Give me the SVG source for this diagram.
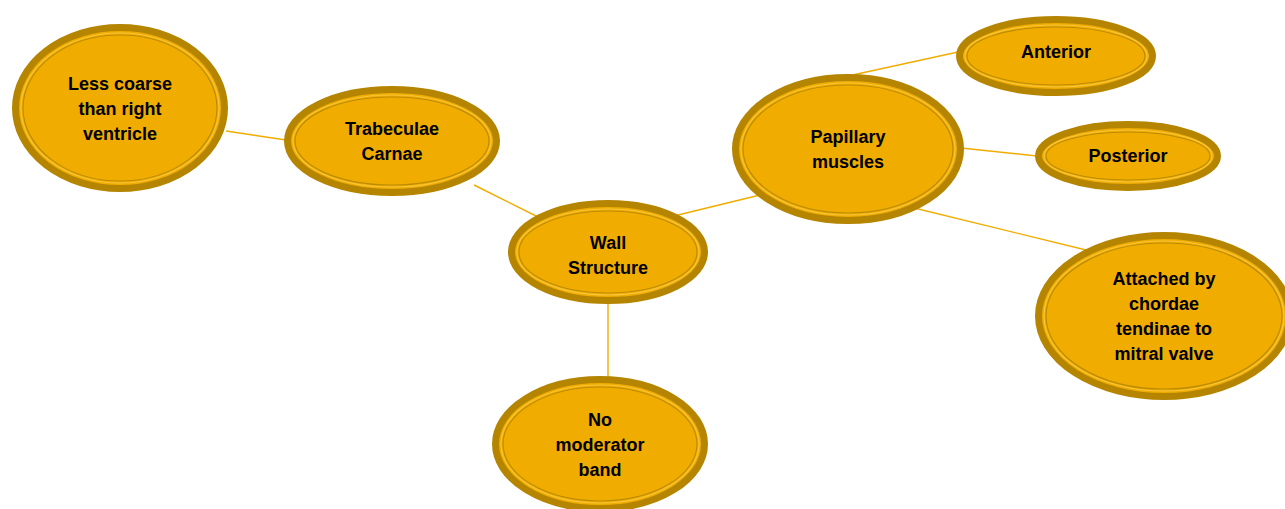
<svg xmlns="http://www.w3.org/2000/svg" width="1285" height="509" viewBox="0 0 1285 509">
<style>
.bg{fill:#ffffff}
.outer{fill:#F0AD00;stroke:#B58500;stroke-width:7}
.hl{fill:none;stroke:#F7C43A;stroke-width:1.2}
.dk{fill:none;stroke:#BE8C00;stroke-width:1.2}
.lbl{font-family:"Liberation Sans",Arial,sans-serif;font-weight:bold;font-size:18px;fill:#000;text-anchor:middle}
.conn line{stroke:#F0AD00;stroke-width:1.4}
</style>
<rect class="bg" x="0" y="0" width="1285" height="509"/>
<g id="connectors" class="conn">
<line x1="226" y1="131" x2="286" y2="140"/>
<line x1="474" y1="185" x2="540" y2="218"/>
<line x1="678" y1="215" x2="760" y2="195"/>
<line x1="608" y1="302" x2="608" y2="378"/>
<line x1="848" y1="76" x2="958" y2="52"/>
<line x1="961" y1="148" x2="1037" y2="156"/>
<line x1="906" y1="206" x2="1086" y2="250"/>
</g>
<g id="node-less-coarse" transform="translate(120,108)">
<ellipse class="outer" rx="104.5" ry="80.5"/>
<ellipse class="hl" rx="99" ry="75"/>
<ellipse class="dk" rx="97" ry="73"/>
<text class="lbl"><tspan x="0" y="-18">Less coarse</tspan><tspan x="0" y="7">than right</tspan><tspan x="0" y="32">ventricle</tspan></text>
</g>
<g id="node-trabeculae" transform="translate(392,141)">
<ellipse class="outer" rx="104.5" ry="51.5"/>
<ellipse class="hl" rx="99" ry="46"/>
<ellipse class="dk" rx="97" ry="44"/>
<text class="lbl"><tspan x="0" y="-6">Trabeculae</tspan><tspan x="0" y="19">Carnae</tspan></text>
</g>
<g id="node-wall" transform="translate(608,252)">
<ellipse class="outer" rx="96.5" ry="48.5"/>
<ellipse class="hl" rx="91" ry="43"/>
<ellipse class="dk" rx="89" ry="41"/>
<text class="lbl"><tspan x="0" y="-3">Wall</tspan><tspan x="0" y="22">Structure</tspan></text>
</g>
<g id="node-moderator" transform="translate(600,444)">
<ellipse class="outer" rx="104.5" ry="64.5"/>
<ellipse class="hl" rx="99" ry="59"/>
<ellipse class="dk" rx="97" ry="57"/>
<text class="lbl"><tspan x="0" y="-18">No</tspan><tspan x="0" y="7">moderator</tspan><tspan x="0" y="32">band</tspan></text>
</g>
<g id="node-papillary" transform="translate(848,149)">
<ellipse class="outer" rx="112.5" ry="71.5"/>
<ellipse class="hl" rx="107" ry="66"/>
<ellipse class="dk" rx="105" ry="64"/>
<text class="lbl"><tspan x="0" y="-6">Papillary</tspan><tspan x="0" y="19">muscles</tspan></text>
</g>
<g id="node-anterior" transform="translate(1056,56)">
<ellipse class="outer" rx="96.5" ry="36.5"/>
<ellipse class="hl" rx="91" ry="31"/>
<ellipse class="dk" rx="89" ry="29"/>
<text class="lbl"><tspan x="0" y="2">Anterior</tspan></text>
</g>
<g id="node-posterior" transform="translate(1128,156)">
<ellipse class="outer" rx="89.5" ry="31.5"/>
<ellipse class="hl" rx="84" ry="26"/>
<ellipse class="dk" rx="82" ry="24"/>
<text class="lbl"><tspan x="0" y="6">Posterior</tspan></text>
</g>
<g id="node-attached" transform="translate(1164,316)">
<ellipse class="outer" rx="125.5" ry="80.5"/>
<ellipse class="hl" rx="120" ry="75"/>
<ellipse class="dk" rx="118" ry="73"/>
<text class="lbl"><tspan x="0" y="-31">Attached by</tspan><tspan x="0" y="-6">chordae</tspan><tspan x="0" y="19">tendinae to</tspan><tspan x="0" y="44">mitral valve</tspan></text>
</g>
</svg>
